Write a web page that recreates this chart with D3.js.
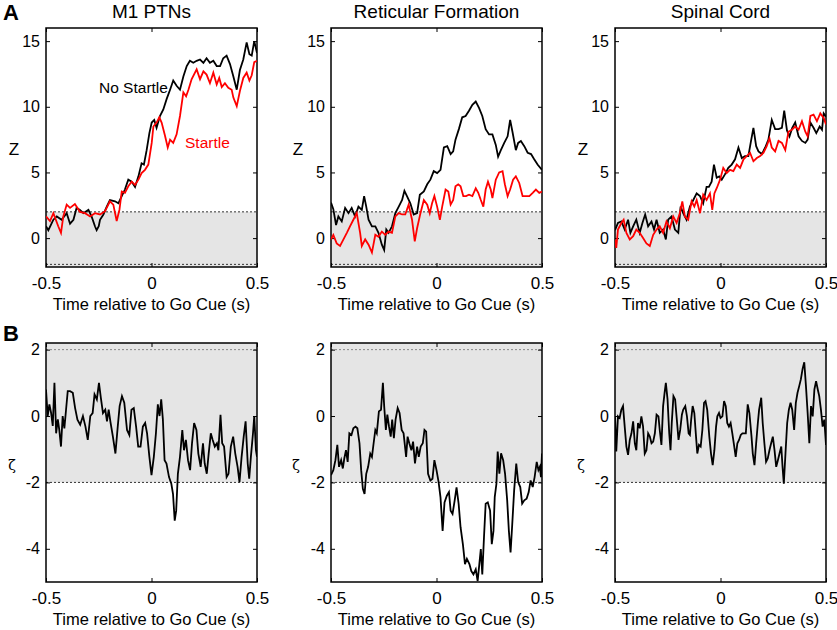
<!DOCTYPE html>
<html>
<head>
<meta charset="utf-8">
<script src="https://cdnjs.cloudflare.com/ajax/libs/d3/7.8.5/d3.min.js"></script>
<style>
body { margin: 0; background: #fff; }
svg { font-family: "Liberation Sans", Arial, sans-serif; }
</style>
</head>
<body>
<script>
// regions and ticks
var regions = ["M1 PTNs", "Reticular Formation", "Spinal Cord"];
var timeTicks = [-0.5, 0, 0.5];
var zTicks = [0, 5, 10, 15];
var zetaTicks = [-4, -2, 0, 2];

// panel A, z-scores  [time (s), z]
var m1NoStartle = [[-0.5,0.9],[-0.489,0.6],[-0.465,1.4],[-0.449,1.65],[-0.426,1.4],[-0.402,1.9],[-0.386,1.1],[-0.37,1.4],[-0.355,2.3],[-0.339,2.15],[-0.323,1.9],[-0.299,2.15],[-0.284,1.65],[-0.268,0.9],[-0.26,0.6],[-0.25,0.9],[-0.244,1.4],[-0.228,1.8],[-0.212,2.4],[-0.197,2.9],[-0.173,2.8],[-0.157,2.65],[-0.141,3.2],[-0.126,3.7],[-0.11,4.45],[-0.094,4.3],[-0.078,3.9],[-0.062,4.7],[-0.047,5.7],[-0.036,5.6],[-0.023,6.7],[-0.01,8.0],[0.001,8.8],[0.013,9.0],[0.024,8.4],[0.04,9.3],[0.056,9.8],[0.072,10.6],[0.088,11.3],[0.103,12.0],[0.119,11.6],[0.135,11.3],[0.151,12.3],[0.167,13.1],[0.182,13.5],[0.198,13.35],[0.214,13.5],[0.23,13.6],[0.246,13.35],[0.261,13.7],[0.277,13.35],[0.293,13.5],[0.309,13.1],[0.325,13.1],[0.34,13.7],[0.356,13.9],[0.372,13.25],[0.388,12.3],[0.404,11.3],[0.419,12.8],[0.435,13.6],[0.451,14.9],[0.464,14.0],[0.475,13.9],[0.487,15.0],[0.5,14.1]];
var m1Startle = [[-0.5,1.65],[-0.481,1.3],[-0.465,1.9],[-0.442,0.9],[-0.429,0.4],[-0.418,1.65],[-0.402,2.55],[-0.386,2.3],[-0.363,2.6],[-0.339,2.0],[-0.315,1.9],[-0.291,1.65],[-0.268,1.9],[-0.244,1.8],[-0.22,2.05],[-0.197,2.8],[-0.181,2.55],[-0.165,1.3],[-0.152,2.15],[-0.141,3.55],[-0.126,3.45],[-0.11,3.95],[-0.094,4.3],[-0.078,4.05],[-0.062,4.45],[-0.047,4.95],[-0.031,5.2],[-0.015,5.6],[0.001,7.25],[0.009,8.5],[0.024,8.8],[0.037,9.2],[0.048,8.8],[0.064,7.8],[0.077,6.9],[0.088,7.5],[0.103,7.25],[0.119,7.9],[0.135,9.3],[0.151,11.1],[0.164,10.8],[0.175,11.3],[0.19,12.1],[0.214,12.85],[0.23,12.1],[0.246,12.7],[0.261,12.45],[0.277,11.8],[0.293,12.6],[0.309,11.7],[0.321,12.2],[0.333,11.5],[0.348,11.8],[0.364,11.45],[0.38,11.3],[0.388,10.7],[0.404,10.05],[0.419,11.2],[0.435,12.2],[0.451,12.6],[0.464,12.0],[0.475,12.4],[0.487,13.4],[0.5,13.5]];
var rfNoStartle = [[-0.5,2.7],[-0.489,2.2],[-0.476,1.0],[-0.465,1.65],[-0.449,1.27],[-0.433,2.3],[-0.417,1.9],[-0.402,2.3],[-0.386,1.65],[-0.37,2.4],[-0.354,2.15],[-0.343,3.2],[-0.333,2.4],[-0.322,1.4],[-0.306,0.9],[-0.29,0.9],[-0.275,0.4],[-0.259,-0.5],[-0.248,-0.9],[-0.238,0.65],[-0.227,0.4],[-0.211,0.9],[-0.195,1.9],[-0.179,2.4],[-0.163,2.9],[-0.152,3.6],[-0.14,3.2],[-0.124,2.65],[-0.108,1.8],[-0.092,1.9],[-0.079,3.3],[-0.06,3.55],[-0.044,4.1],[-0.029,4.45],[-0.013,5.1],[0.003,4.95],[0.019,5.2],[0.035,6.9],[0.051,7.0],[0.067,6.4],[0.079,6.6],[0.09,7.5],[0.106,8.3],[0.122,9.2],[0.138,9.3],[0.154,9.7],[0.17,10.15],[0.186,10.4],[0.202,9.9],[0.217,9.3],[0.233,8.3],[0.249,7.9],[0.265,7.9],[0.281,7.1],[0.292,6.2],[0.305,6.7],[0.321,7.25],[0.337,7.75],[0.349,9.0],[0.36,8.1],[0.376,6.7],[0.387,7.25],[0.4,7.4],[0.416,7.0],[0.432,6.5],[0.448,6.4],[0.463,6.0],[0.479,5.6],[0.5,5.2]];
var rfStartle = [[-0.5,-0.1],[-0.489,0.25],[-0.473,-0.4],[-0.457,-0.6],[-0.441,-0.1],[-0.425,0.4],[-0.41,0.9],[-0.394,1.4],[-0.378,1.9],[-0.362,0.4],[-0.354,-0.6],[-0.338,-0.1],[-0.322,-0.5],[-0.306,-1.1],[-0.29,0.25],[-0.275,0.1],[-0.259,0.5],[-0.243,0.25],[-0.227,0.5],[-0.211,0.4],[-0.195,1.65],[-0.179,1.9],[-0.163,1.8],[-0.148,1.8],[-0.132,2.55],[-0.116,1.4],[-0.103,-0.25],[-0.092,0.75],[-0.076,1.9],[-0.06,2.9],[-0.044,2.55],[-0.032,1.9],[-0.021,2.65],[-0.01,3.2],[0.003,2.4],[0.016,1.4],[0.027,2.4],[0.043,3.7],[0.056,3.55],[0.067,2.55],[0.079,2.9],[0.09,3.95],[0.103,4.1],[0.114,3.95],[0.127,3.2],[0.14,3.2],[0.154,3.3],[0.17,3.2],[0.186,3.8],[0.198,3.45],[0.21,2.9],[0.222,2.4],[0.233,3.7],[0.244,4.3],[0.257,3.7],[0.265,3.05],[0.281,4.45],[0.297,5.0],[0.313,5.1],[0.324,4.1],[0.337,3.2],[0.349,3.7],[0.363,4.45],[0.376,4.7],[0.392,4.2],[0.408,3.2],[0.424,3.2],[0.44,3.2],[0.456,3.45],[0.471,3.7],[0.487,3.45],[0.5,3.55]];
var scNoStartle = [[-0.5,0.6],[-0.486,1.15],[-0.47,1.27],[-0.454,0.65],[-0.438,1.4],[-0.427,0.4],[-0.414,0.9],[-0.399,1.4],[-0.383,0.4],[-0.37,1.15],[-0.357,1.8],[-0.343,0.9],[-0.327,1.27],[-0.315,0.65],[-0.303,1.4],[-0.288,0.4],[-0.272,0.65],[-0.259,-0.1],[-0.248,1.4],[-0.232,1.65],[-0.216,0.65],[-0.2,0.4],[-0.189,2.4],[-0.177,1.9],[-0.161,1.4],[-0.145,2.4],[-0.129,2.9],[-0.113,3.4],[-0.097,3.2],[-0.082,2.65],[-0.066,3.9],[-0.055,3.9],[-0.042,4.3],[-0.031,5.6],[-0.018,4.6],[-0.006,4.7],[0.006,4.45],[0.021,4.85],[0.037,5.35],[0.053,5.6],[0.069,6.0],[0.085,6.9],[0.101,6.1],[0.116,6.25],[0.132,6.25],[0.143,7.25],[0.156,8.4],[0.169,7.0],[0.18,6.6],[0.196,6.4],[0.212,6.9],[0.227,7.5],[0.243,9.0],[0.259,8.3],[0.275,8.3],[0.291,8.4],[0.302,9.7],[0.315,8.2],[0.327,7.75],[0.34,8.4],[0.354,8.8],[0.37,7.75],[0.386,7.4],[0.402,7.25],[0.413,7.5],[0.426,8.8],[0.441,8.4],[0.454,8.0],[0.47,8.5],[0.481,8.25],[0.489,9.5],[0.5,9.25]];
var scStartle = [[-0.5,-0.1],[-0.494,-0.75],[-0.486,0.65],[-0.47,1.15],[-0.459,1.4],[-0.446,0.4],[-0.43,-0.1],[-0.414,0.15],[-0.399,0.65],[-0.383,0.4],[-0.367,0.0],[-0.351,-0.4],[-0.335,-0.6],[-0.319,0.25],[-0.303,0.65],[-0.288,0.9],[-0.272,0.4],[-0.256,1.27],[-0.24,0.75],[-0.224,1.65],[-0.208,1.15],[-0.193,1.9],[-0.181,2.8],[-0.169,1.65],[-0.153,1.4],[-0.137,2.8],[-0.124,2.4],[-0.113,2.9],[-0.097,1.9],[-0.082,3.3],[-0.066,2.9],[-0.05,3.4],[-0.039,2.15],[-0.029,3.4],[-0.018,3.8],[-0.002,4.45],[0.013,5.35],[0.029,4.95],[0.045,5.2],[0.061,5.1],[0.077,5.6],[0.093,5.35],[0.109,6.0],[0.124,6.25],[0.14,6.5],[0.156,5.85],[0.172,6.1],[0.188,6.25],[0.204,6.5],[0.219,7.0],[0.232,7.6],[0.243,6.9],[0.259,6.6],[0.275,7.4],[0.291,7.25],[0.307,6.7],[0.322,8.1],[0.338,8.25],[0.354,8.5],[0.37,8.25],[0.386,8.9],[0.402,8.1],[0.413,7.75],[0.426,9.3],[0.441,9.4],[0.457,8.9],[0.473,9.5],[0.489,9.15],[0.5,8.65]];

// panel B, zeta  [time (s), zeta]
var m1Zeta = [[-0.5,0.8],[-0.492,0.0],[-0.484,0.35],[-0.476,0.1],[-0.468,-0.3],[-0.46,1.0],[-0.452,-0.52],[-0.444,-0.1],[-0.437,-0.42],[-0.429,-0.92],[-0.421,0.0],[-0.413,-0.37],[-0.405,0.19],[-0.397,0.75],[-0.386,0.75],[-0.373,0.7],[-0.362,0.24],[-0.351,-0.11],[-0.338,-0.26],[-0.325,0.0],[-0.313,-0.32],[-0.302,-0.72],[-0.29,0.0],[-0.279,0.09],[-0.27,0.65],[-0.259,0.5],[-0.249,1.0],[-0.24,0.55],[-0.23,0.09],[-0.219,0.19],[-0.211,-0.16],[-0.203,0.19],[-0.195,-0.16],[-0.183,-0.62],[-0.171,-1.13],[-0.16,-0.32],[-0.151,0.3],[-0.14,0.6],[-0.129,0.4],[-0.116,-0.42],[-0.105,-0.57],[-0.095,0.19],[-0.084,0.24],[-0.073,-0.32],[-0.063,-0.92],[-0.052,-0.92],[-0.041,-0.32],[-0.03,-0.21],[-0.021,-0.52],[-0.01,-1.23],[0.0,-1.78],[0.011,-1.23],[0.021,-0.52],[0.03,0.35],[0.038,0.0],[0.046,0.5],[0.054,-0.11],[0.062,-1.33],[0.071,-1.43],[0.083,-1.84],[0.094,-2.04],[0.102,-2.35],[0.11,-3.15],[0.117,-2.85],[0.125,-1.74],[0.135,-1.23],[0.146,-0.42],[0.154,-1.03],[0.163,-0.72],[0.173,-1.33],[0.183,-1.63],[0.192,-0.82],[0.202,-0.21],[0.213,-0.42],[0.222,-1.13],[0.233,-1.53],[0.244,-0.82],[0.252,-1.43],[0.262,-1.74],[0.271,-1.13],[0.281,-0.52],[0.29,-0.72],[0.3,-0.92],[0.31,-0.82],[0.317,-1.03],[0.327,0.04],[0.335,-0.82],[0.344,-0.92],[0.356,-1.84],[0.365,-1.74],[0.376,-0.92],[0.387,-0.62],[0.397,-1.13],[0.408,-1.53],[0.417,-1.99],[0.427,-1.23],[0.437,-0.62],[0.446,-0.16],[0.456,-1.43],[0.463,-1.89],[0.471,-1.23],[0.481,-0.52],[0.487,0.0],[0.495,-1.03],[0.5,-1.23]];
var rfZeta = [[-0.5,-1.78],[-0.489,-1.63],[-0.479,-1.33],[-0.47,-0.87],[-0.462,-1.53],[-0.452,-1.33],[-0.444,-1.58],[-0.437,-1.28],[-0.429,-1.03],[-0.421,-1.38],[-0.413,-0.52],[-0.403,-0.57],[-0.394,-0.37],[-0.384,-0.32],[-0.375,-0.37],[-0.365,-0.82],[-0.357,-1.63],[-0.349,-2.19],[-0.341,-2.35],[-0.333,-1.74],[-0.324,-1.53],[-0.314,-1.13],[-0.306,-1.23],[-0.298,-0.82],[-0.29,-0.42],[-0.283,-0.52],[-0.273,0.14],[-0.263,0.19],[-0.254,1.0],[-0.248,0.3],[-0.24,-0.42],[-0.233,0.04],[-0.225,-0.32],[-0.217,-0.62],[-0.21,-0.11],[-0.202,-0.67],[-0.194,-0.11],[-0.184,0.24],[-0.175,0.09],[-0.165,-0.42],[-0.156,-0.52],[-0.144,-1.23],[-0.137,-0.62],[-0.129,-0.82],[-0.119,-1.03],[-0.111,-0.77],[-0.102,-1.43],[-0.092,-0.92],[-0.084,-1.23],[-0.075,-0.92],[-0.065,-0.82],[-0.057,-0.42],[-0.049,-0.47],[-0.04,-1.74],[-0.029,-1.94],[-0.019,-1.89],[-0.01,-1.33],[0.0,-1.63],[0.01,-1.99],[0.019,-2.45],[0.029,-3.46],[0.038,-2.6],[0.049,-2.4],[0.059,-2.29],[0.067,-2.85],[0.076,-2.95],[0.086,-2.55],[0.095,-2.15],[0.105,-2.65],[0.114,-3.35],[0.125,-3.86],[0.135,-4.46],[0.144,-4.3],[0.156,-4.46],[0.165,-4.67],[0.175,-4.77],[0.186,-4.62],[0.195,-4.97],[0.203,-4.46],[0.21,-4.01],[0.217,-4.77],[0.225,-3.66],[0.233,-2.64],[0.243,-2.6],[0.254,-2.85],[0.262,-3.86],[0.27,-3.46],[0.276,-2.44],[0.284,-2.04],[0.29,-1.07],[0.298,-1.74],[0.306,-1.12],[0.316,-1.33],[0.325,-1.74],[0.335,-2.54],[0.343,-3.46],[0.351,-4.11],[0.359,-3.26],[0.368,-2.24],[0.378,-1.43],[0.387,-1.99],[0.397,-2.14],[0.406,-2.64],[0.416,-2.54],[0.427,-2.49],[0.437,-2.29],[0.446,-1.94],[0.456,-2.14],[0.465,-1.84],[0.475,-1.38],[0.483,-1.63],[0.49,-1.53],[0.495,-1.84],[0.5,-1.13]];
var scZeta = [[-0.5,-0.01],[-0.494,-1.07],[-0.486,-0.01],[-0.478,-0.06],[-0.47,0.19],[-0.462,0.3],[-0.454,-0.32],[-0.446,-0.92],[-0.438,-1.17],[-0.43,-0.72],[-0.422,-0.52],[-0.414,-0.16],[-0.406,-0.82],[-0.399,-1.03],[-0.391,-0.21],[-0.383,-0.37],[-0.375,-0.01],[-0.367,-0.32],[-0.359,-1.13],[-0.351,-1.03],[-0.343,-0.52],[-0.335,-0.62],[-0.327,-0.82],[-0.319,-0.77],[-0.311,-0.52],[-0.303,0.04],[-0.294,-0.01],[-0.288,-0.42],[-0.28,-0.87],[-0.272,0.3],[-0.265,0.7],[-0.259,1.0],[-0.251,0.5],[-0.243,-0.52],[-0.237,-1.03],[-0.231,-0.21],[-0.223,0.6],[-0.215,0.5],[-0.207,-0.11],[-0.199,-0.72],[-0.191,-0.42],[-0.183,0.04],[-0.177,0.19],[-0.167,0.3],[-0.159,-0.01],[-0.151,-0.52],[-0.145,-0.57],[-0.139,-0.11],[-0.132,0.3],[-0.124,0.09],[-0.116,-0.62],[-0.11,-1.13],[-0.102,-0.87],[-0.094,-0.92],[-0.086,-0.42],[-0.078,0.4],[-0.071,0.45],[-0.063,0.19],[-0.053,-0.62],[-0.045,-1.13],[-0.037,-1.48],[-0.029,-1.03],[-0.021,-0.32],[-0.015,-0.01],[-0.007,0.09],[0.0,-0.06],[0.009,-0.01],[0.017,0.45],[0.025,0.3],[0.032,-0.21],[0.04,-0.32],[0.048,-0.21],[0.056,-0.52],[0.064,-0.87],[0.072,-1.23],[0.08,-0.82],[0.088,-0.72],[0.096,-0.57],[0.104,-0.52],[0.112,-0.52],[0.12,-0.52],[0.129,0.35],[0.137,0.09],[0.147,-0.62],[0.153,-1.13],[0.161,-1.48],[0.169,-0.82],[0.177,-0.21],[0.183,0.19],[0.193,0.55],[0.2,-0.21],[0.208,-0.82],[0.216,-1.38],[0.224,-1.28],[0.232,-1.03],[0.24,-0.82],[0.248,-0.62],[0.256,-1.03],[0.264,-1.53],[0.272,-1.33],[0.28,-1.12],[0.288,-0.92],[0.294,-1.53],[0.3,-2.04],[0.308,-1.12],[0.316,-0.21],[0.324,0.19],[0.332,0.4],[0.34,0.19],[0.349,-0.42],[0.357,0.4],[0.365,0.7],[0.373,0.9],[0.381,1.11],[0.389,1.42],[0.397,1.62],[0.405,0.9],[0.413,0.09],[0.421,-0.82],[0.429,0.3],[0.437,-0.01],[0.445,0.8],[0.453,1.05],[0.461,0.8],[0.468,0.6],[0.476,0.19],[0.484,-0.32],[0.492,-0.11],[0.5,-0.87]];

var zSeries = [[m1NoStartle, m1Startle], [rfNoStartle, rfStartle], [scNoStartle, scStartle]];
var zetaSeries = [m1Zeta, rfZeta, scZeta];

var W = 837, H = 630;
var lefts = [46, 331, 615];
var pw = 211, ph = 239;
var topA = 28, topB = 343;

var svg = d3.select("body").append("svg")
    .attr("width", W)
    .attr("height", H);

var x = d3.scaleLinear().domain([-0.5, 0.5]).range([0, pw]);
var yA = d3.scaleLinear().domain([-2.2, 16]).range([ph, 0]);
var yB = d3.scaleLinear().domain([-5, 2.2]).range([ph, 0]);

// plain hyphen minus, like the original figure
var fmt = function(d) { return String(d); };

function drawPanel(i, top, y, ticks, bandLo, bandHi, clipId) {
  var g = svg.append("g").attr("transform", "translate(" + lefts[i] + "," + top + ")");

  g.append("clipPath").attr("id", clipId)
    .append("rect").attr("width", pw).attr("height", ph);

  // grey band for |value| < 2
  g.append("rect")
    .attr("x", 0)
    .attr("y", y(bandHi))
    .attr("width", pw)
    .attr("height", y(bandLo) - y(bandHi))
    .style("fill", "#e5e5e5");

  // dotted threshold lines
  [2, -2].forEach(function(v) {
    g.append("line")
      .attr("x1", 0).attr("x2", pw)
      .attr("y1", y(v)).attr("y2", y(v))
      .style("stroke", (top == topB && v == 2) ? "#888" : "#333")
      .style("stroke-width", 1)
      .style("stroke-dasharray", "2,2");
  });

  // axes, ticks point inwards
  var ax = function(a) {
    a.selectAll(".domain").remove();
    a.selectAll("line").style("stroke", "#000");
    a.selectAll("text").style("fill", "#000");
  };
  g.append("g").attr("transform", "translate(0," + ph + ")")
    .call(d3.axisBottom(x).tickValues(timeTicks).tickSize(-4).tickPadding(10).tickFormat(fmt))
    .style("font-size", "17px").style("font-family", null)
    .call(ax);
  g.append("g")
    .call(d3.axisTop(x).tickValues(timeTicks).tickSize(-4).tickFormat(""))
    .call(ax);
  g.append("g")
    .call(d3.axisLeft(y).tickValues(ticks).tickSize(-4).tickPadding(6).tickFormat(fmt))
    .style("font-size", "16px").style("font-family", null)
    .call(ax);
  g.append("g").attr("transform", "translate(" + pw + ",0)")
    .call(d3.axisRight(y).tickValues(ticks).tickSize(-4).tickFormat(""))
    .call(ax);

  g.append("rect")
    .attr("width", pw).attr("height", ph)
    .style("fill", "none")
    .style("stroke", "#000")
    .style("stroke-width", 1.5);

  // x label
  g.append("text")
    .attr("x", pw / 2)
    .attr("y", ph + 43)
    .attr("text-anchor", "middle")
    .style("font-size", "16.5px")
    .text("Time relative to Go Cue (s)");

  return g;
}

var line = function(y) {
  return d3.line().x(function(d) { return x(d[0]); }).y(function(d) { return y(d[1]); });
};

var zLabelX = [-32, -33, -32];

for (var i = 0; i < 3; i++) {
  // row A
  var gA = drawPanel(i, topA, yA, zTicks, -2.2, 2, "clipA" + i);
  gA.append("path")
    .datum(zSeries[i][0])
    .attr("d", line(yA))
    .attr("clip-path", "url(#clipA" + i + ")")
    .style("fill", "none").style("stroke", "#000").style("stroke-width", 1.8);
  gA.append("path")
    .datum(zSeries[i][1])
    .attr("d", line(yA))
    .attr("clip-path", "url(#clipA" + i + ")")
    .style("fill", "none").style("stroke", "#ff0000").style("stroke-width", 1.8);
  gA.append("text")
    .attr("x", pw / 2).attr("y", -10)
    .attr("text-anchor", "middle")
    .style("font-size", "19px")
    .text(regions[i]);
  gA.append("text")
    .attr("x", zLabelX[i]).attr("y", ph / 2 + 7)
    .attr("text-anchor", "middle")
    .style("font-size", "17px")
    .text("Z");

  // row B
  var gB = drawPanel(i, topB, yB, zetaTicks, -2, 2.2, "clipB" + i);
  gB.append("path")
    .datum(zetaSeries[i])
    .attr("d", line(yB))
    .attr("clip-path", "url(#clipB" + i + ")")
    .style("fill", "none").style("stroke", "#000").style("stroke-width", 1.8);
  gB.append("text")
    .attr("x", zLabelX[i] - 2).attr("y", ph / 2 + 7)
    .attr("text-anchor", "middle")
    .style("font-family", "'DejaVu Serif', serif")
    .style("font-size", "14px")
    .text("ζ");
}

// legend text inside first panel
svg.append("text").attr("x", 99).attr("y", 93).style("font-size", "15.5px").text("No Startle");
svg.append("text").attr("x", 185).attr("y", 148).style("font-size", "15.5px").style("fill", "#ff0000").text("Startle");

// panel letters
svg.append("text").attr("x", 3).attr("y", 20).style("font-size", "22px").style("font-weight", "bold").text("A");
svg.append("text").attr("x", 3).attr("y", 341).style("font-size", "22px").style("font-weight", "bold").text("B");
</script>
</body>
</html>
